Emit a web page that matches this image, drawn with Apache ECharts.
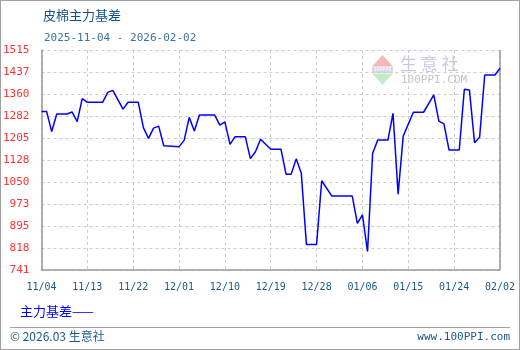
<!DOCTYPE html>
<html><head><meta charset="utf-8">
<script src="https://cdn.jsdelivr.net/npm/echarts@6/dist/echarts.min.js"></script>
<style>
html,body{margin:0;padding:0;background:#fff;}
#wrap{position:absolute;left:0;top:0;width:518px;height:348px;border:1px solid #a0a0a0;background:#fff;}
#c{position:absolute;left:-1px;top:-1px;width:520px;height:350px;}
</style></head>
<body><div id="wrap"><div id="c"></div></div>
<script>
// ---- data ----
var titleText = '皮棉主力基差';
var rangeText = '2025-11-04 - 2026-02-02';
var seriesName = '主力基差';
var startDate = '2025-11-04';
var dates = ['2025-11-04','2025-11-05','2025-11-06','2025-11-07','2025-11-09','2025-11-10','2025-11-11','2025-11-12','2025-11-13','2025-11-16',
  '2025-11-17','2025-11-18','2025-11-20','2025-11-21','2025-11-23','2025-11-24','2025-11-25','2025-11-26','2025-11-27','2025-11-28',
  '2025-12-01','2025-12-02','2025-12-03','2025-12-04','2025-12-05','2025-12-08','2025-12-09','2025-12-10','2025-12-11','2025-12-12',
  '2025-12-14','2025-12-15','2025-12-16','2025-12-17','2025-12-19','2025-12-21','2025-12-22','2025-12-23','2025-12-24','2025-12-25',
  '2025-12-26','2025-12-28','2025-12-29','2025-12-31','2026-01-04','2026-01-05','2026-01-06','2026-01-07','2026-01-08','2026-01-09',
  '2026-01-11','2026-01-12','2026-01-13','2026-01-14','2026-01-16','2026-01-18','2026-01-20','2026-01-21','2026-01-22','2026-01-23',
  '2026-01-25','2026-01-26','2026-01-27','2026-01-28','2026-01-29','2026-01-30','2026-02-01','2026-02-02'];
var values = [1299,1299,1228,1290,1290,1297,1263,1344,1331,1331,
  1366,1373,1307,1331,1331,1242,1204,1240,1247,1178,
  1175,1197,1278,1230,1286,1286,1251,1262,1183,1210,
  1210,1133,1157,1201,1166,1166,1078,1078,1132,1081,
  831,831,1055,1001,1001,905,935,806,1152,1198,
  1198,1292,1008,1212,1296,1296,1357,1265,1255,1163,
  1163,1377,1374,1189,1208,1427,1427,1451];
var xTickLabels = ['11/04','11/13','11/22','12/01','12/10','12/19','12/28','01/06','01/15','01/24','02/02'];
var yTickLabels = ['741','818','895','973','1050','1128','1205','1282','1360','1437','1515'];
var yMin = 741, yMax = 1515;
var footerLeft = '© 2026.03 生意社';
var footerRight = 'www.100PPI.com';

// ---- build ----
function dayOffset(s){
  var a = s.split('-').map(Number), b = startDate.split('-').map(Number);
  return Math.round((Date.UTC(a[0],a[1]-1,a[2]) - Date.UTC(b[0],b[1]-1,b[2]))/86400000);
}
var seriesData = dates.map(function(d,i){ return [dayOffset(d), values[i]]; });
var nDays = dayOffset(dates[dates.length-1]);
var xStep = nDays/(xTickLabels.length-1);
var yStep = (yMax-yMin)/(yTickLabels.length-1);

var chart = echarts.init(document.getElementById('c'), null, {renderer:'canvas'});
var mono = '"DejaVu Sans Mono", "Liberation Mono", monospace';
var cjk = '"Noto Sans CJK SC", "Noto Sans", sans-serif';
chart.setOption({
  animation:false,
  backgroundColor:'transparent',
  title:[
    {text:titleText, left:38, top:4, textStyle:{fontFamily:cjk, fontSize:13, fontWeight:'normal', color:'#10508a'}},
    {text:rangeText, left:39, top:28, textStyle:{fontFamily:mono, fontSize:11, fontWeight:'normal', color:'#3c74a0'}}
  ],
  legend:{show:true, left:15, top:299, icon:'none', itemWidth:0, itemGap:0,
    data:[seriesName],
    formatter:function(n){return n+'——';},
    textStyle:{fontFamily:cjk, fontSize:13, color:'#0000ff', padding:[0,0,0,-6]}},
  grid:{left:40, right:20, top:50, bottom:80, show:false},
  xAxis:{type:'value', min:0, max:nDays, interval:xStep,
    axisLine:{show:true, onZero:false, lineStyle:{color:'#999', width:1.5}},
    axisTick:{show:false},
    axisLabel:{margin:12, fontFamily:mono, fontSize:10, color:'#1a5a88',
      formatter:function(v){ var i=Math.round(v/xStep); return xTickLabels[i]||''; }},
    splitLine:{show:true, lineStyle:{color:'#cccccc', type:[3,3], width:1}}
  },
  yAxis:{type:'value', min:yMin, max:yMax, interval:yStep,
    axisLine:{show:true, lineStyle:{color:'#999', width:1.5}},
    axisTick:{show:false},
    axisLabel:{margin:12, fontFamily:mono, fontSize:11, color:'#ff3333',
      formatter:function(v){ var i=Math.round((v-yMin)/yStep); return yTickLabels[i]||''; }},
    splitLine:{show:true, lineStyle:{color:'#cccccc', type:[3,3], width:1}}
  },
  graphic:[
    {type:'line', shape:{x1:500,y1:50,x2:500,y2:270}, style:{stroke:'#999', lineWidth:1.5}, z:5},
    {type:'line', shape:{x1:10,y1:327.5,x2:510,y2:327.5}, style:{stroke:'#a0a0a0', lineWidth:1}},
    {type:'text', left:10, top:330, style:{text:footerLeft, font:'12px '+cjk, fill:'#1a5a88'}},
    {type:'text', right:10, top:332, style:{text:footerRight, font:'11px '+mono, fill:'#1a5a88'}},
    // watermark
    {type:'polygon', shape:{points:[[382.5,55],[372,66.5],[393,66.5]]}, style:{fill:'#f3b9b9'}, z:0},
    {type:'rect', shape:{x:372,y:67,width:21,height:6}, style:{fill:'#d8d8e4'}, z:0},
    {type:'text', x:382.5, y:70, style:{text:'100PPI', font:'5px '+mono, fill:'#ffffff', align:'center', verticalAlign:'middle'}, z:0},
    {type:'polygon', shape:{points:[[372,73.5],[393,73.5],[382.5,85]]}, style:{fill:'#c4ecc8'}, z:0},
    {type:'text', x:400, y:63.5, style:{text:'生 意 社', font:'17px '+cjk, fill:'#c5cbe0', verticalAlign:'middle'}, z:0},
    {type:'text', x:401, y:80, style:{text:'100PPI.COM', font:'11px '+mono, fill:'#c4c4c4', verticalAlign:'middle'}, z:0}
  ],
  series:[{name:seriesName, type:'line', data:seriesData, showSymbol:false, symbol:'none',
    lineStyle:{color:'#0000ff', width:1.5}, itemStyle:{color:'#0000ff'}, z:10}]
});
</script></body></html>
